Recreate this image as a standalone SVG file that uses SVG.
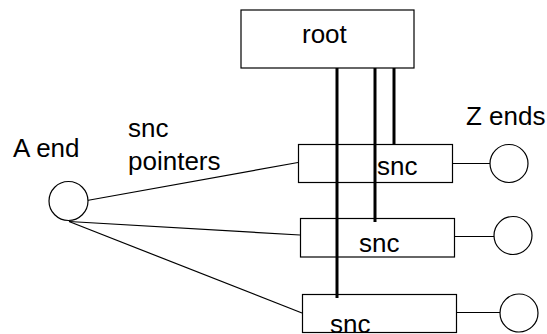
<svg xmlns="http://www.w3.org/2000/svg" width="547" height="334" viewBox="0 0 547 334">
<style>
.box{fill:#fff;stroke:#000;stroke-width:1.2}
.circ{fill:#fff;stroke:#000;stroke-width:1.2}
.thin{stroke:#000;stroke-width:1.2;fill:none}
.thick{stroke:#000;stroke-width:3;fill:none}
text{font-family:"Liberation Sans",Arial,sans-serif;font-size:26px;fill:#000}
</style>
<rect width="547" height="334" fill="#fff"/>
<g id="connectors">
<line class="thin" x1="87" y1="200.5" x2="298" y2="162.5"/>
<line class="thin" x1="69" y1="221.5" x2="300" y2="235"/>
<line class="thin" x1="69" y1="221.5" x2="302" y2="313"/>
<line class="thin" x1="452" y1="163.5" x2="490" y2="163.5"/>
<line class="thin" x1="454" y1="236.5" x2="494" y2="236.5"/>
<line class="thin" x1="457" y1="312.5" x2="500" y2="312.5"/>
</g>
<g id="root"><rect class="box" x="241" y="10" width="173" height="58"/><text x="302" y="43">root</text></g>
<g id="snc1"><rect class="box" x="298.5" y="144.5" width="154" height="38"/><text x="377" y="175">snc</text></g>
<g id="snc2"><rect class="box" x="300.5" y="218.5" width="154" height="38.5"/><text x="359" y="252">snc</text></g>
<g id="snc3"><rect class="box" x="302.5" y="294.5" width="154" height="38"/><text x="330" y="333">snc</text></g>
<g id="pointers">
<line class="thick" x1="337" y1="68" x2="337" y2="298"/>
<line class="thick" x1="375" y1="68" x2="375" y2="222"/>
<line class="thick" x1="394" y1="68" x2="394" y2="145"/>
</g>
<g id="aend"><circle class="circ" cx="68.5" cy="201" r="19.5"/><text x="13" y="157">A end</text></g>
<g id="z1"><circle class="circ" cx="509" cy="163.5" r="19"/></g>
<g id="z2"><circle class="circ" cx="513" cy="235.5" r="19"/></g>
<g id="z3"><circle class="circ" cx="519" cy="313" r="19"/></g>
<g id="labels">
<text x="128" y="137">snc</text>
<text x="128" y="170">pointers</text>
<text x="466" y="125">Z ends</text>
</g>
</svg>
